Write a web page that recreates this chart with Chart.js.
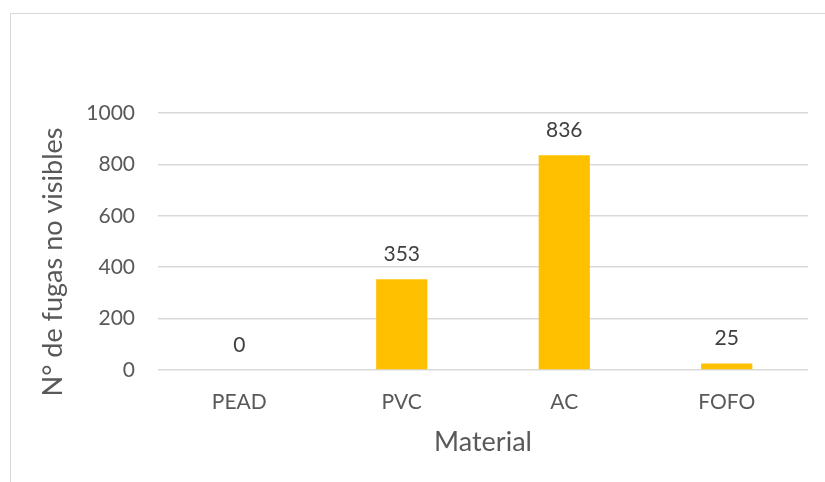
<!DOCTYPE html>
<html>
<head>
<meta charset="utf-8">
<script src="https://cdn.jsdelivr.net/npm/chart.js@4/dist/chart.umd.min.js"></script>
<style>
  html, body { margin: 0; padding: 0; background: #fff; overflow: hidden; }
  #wrap { position: relative; width: 825px; height: 482px; }
  #frame { position: absolute; left: 10px; top: 13px; width: 900px; height: 600px;
           border-left: 1px solid #d9d9d9; border-top: 1px solid #d9d9d9; }
  canvas { position: absolute; left: 0; top: 0; }
</style>
</head>
<body>
<div id="wrap">
  <div id="frame"></div>
  <canvas id="chart" width="825" height="482"></canvas>
</div>
<script>
const categories = ['PEAD', 'PVC', 'AC', 'FOFO'];
const fugas = [0, 353, 836, 25];
const yTicks = [0, 200, 400, 600, 800, 1000];
const xTitle = 'Material';
const yTitle = 'N° de fugas no visibles';

const FONT = 'Lato, "Open Sans", sans-serif';

// Value labels above each bar, and the two axis titles
const annotate = {
  id: 'annotate',
  afterDatasetsDraw(chart) {
    const ctx = chart.ctx;
    const meta = chart.getDatasetMeta(0);
    ctx.save();
    ctx.fillStyle = '#404040';
    ctx.font = '21px ' + FONT;
    ctx.textAlign = 'center';
    ctx.textBaseline = 'middle';
    meta.data.forEach((bar, i) => {
      ctx.fillText(String(fugas[i]), bar.x, bar.y - 25);
    });
    const area = chart.chartArea;
    ctx.fillStyle = '#595959';
    ctx.font = '27px ' + FONT;
    ctx.fillText(xTitle, (area.left + area.right) / 2, 442);
    ctx.translate(53, 262);
    ctx.rotate(-Math.PI / 2);
    ctx.fillText(yTitle, 0, 0);
    ctx.restore();
  }
};

new Chart(document.getElementById('chart'), {
  type: 'bar',
  data: {
    labels: categories,
    datasets: [{
      data: fugas,
      backgroundColor: '#FFC000',
      borderWidth: 0,
      barPercentage: 0.315,
      categoryPercentage: 1
    }]
  },
  options: {
    responsive: false,
    animation: false,
    events: [],
    layout: { padding: { top: 113, right: 17, bottom: 0, left: 0 } },
    plugins: { legend: { display: false }, tooltip: { enabled: false } },
    scales: {
      x: {
        grid: { display: false, drawTicks: false },
        border: { display: false },
        ticks: { color: '#595959', font: { family: FONT, size: 21 }, padding: 20 },
        afterFit(scale) { scale.height = 112; }
      },
      y: {
        min: 0,
        max: 1000,
        afterBuildTicks(scale) { scale.ticks = yTicks.map(v => ({ value: v })); },
        grid: { color: '#d9d9d9', lineWidth: 1.5, drawTicks: false },
        border: { display: false },
        ticks: {
          color: '#595959',
          font: { family: FONT, size: 21 },
          padding: 23,
          callback: (value) => String(value)
        },
        afterFit(scale) { scale.width = 158; }
      }
    }
  },
  plugins: [annotate]
});
</script>
</body>
</html>
